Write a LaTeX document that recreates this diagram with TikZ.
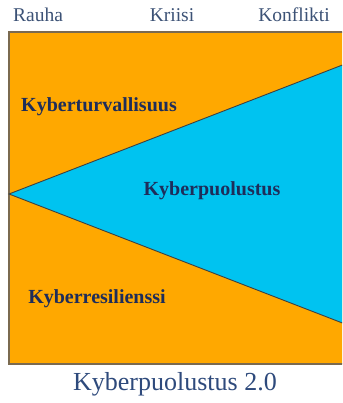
\documentclass[tikz,border=0pt]{standalone}
\usepackage{fontspec}
\setmainfont{Liberation Serif}
\definecolor{orng}{HTML}{FFA800}
\definecolor{cyanfill}{HTML}{00C3F0}
\definecolor{edgegray}{HTML}{7A6A50}
\definecolor{toptext}{HTML}{3C5276}
\definecolor{boldtext}{HTML}{1E2D5A}
\definecolor{captext}{HTML}{2E4A7C}
\begin{document}
\begin{tikzpicture}[x=1pt,y=-1pt,
  toplabel/.style={font=\fontsize{19.5}{22}\selectfont, text=toptext, inner sep=0pt},
  zonelabel/.style={font=\fontsize{20}{22}\selectfont\bfseries, text=boldtext, inner sep=0pt},
  caption/.style={font=\fontsize{26}{28}\selectfont, text=captext, inner sep=0pt}]
\useasboundingbox (0,0) rectangle (342,403);
\fill[white] (0,0) rectangle (342,403);
\begin{scope}
\clip (0,0) rectangle (342,403);
\fill[orng] (9,32) rectangle (350,364);
\draw[edgegray, line width=1.3pt] (350,32) -- (9,32) -- (9,364) -- (350,364);
\fill[cyanfill] (9,194) -- (345,64) -- (345,324) -- cycle;
\draw[black!75, line width=0.9pt] (345,64) -- (9,194) -- (345,324);
\end{scope}
\node[toplabel] (rauha) at (38,15) {Rauha};
\node[toplabel] (kriisi) at (172,15) {Kriisi};
\node[toplabel] (konflikti) at (294,15) {Konflikti};
\node[zonelabel] (turva) at (99,107) {Kyberturvallisuus};
\node[zonelabel] (puol) at (212,191) {Kyberpuolustus};
\node[zonelabel] (resil) at (97,299) {Kyberresilienssi};
\node[caption] (cap) at (175,384) {Kyberpuolustus 2.0};
\end{tikzpicture}
\end{document}
